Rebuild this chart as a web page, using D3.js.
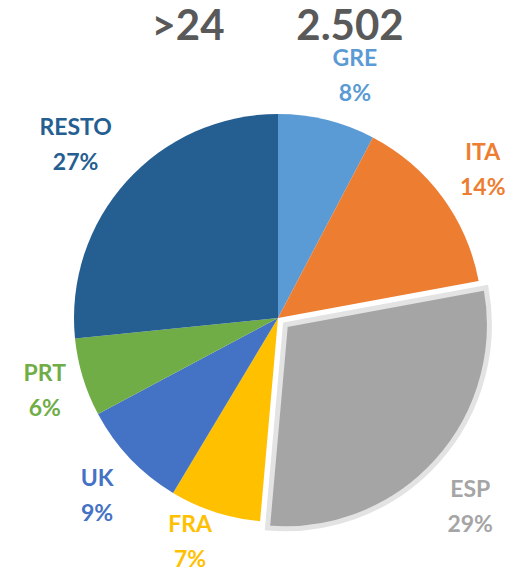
<!DOCTYPE html>
<html>
<head>
<meta charset="utf-8">
<script src="https://cdn.jsdelivr.net/npm/d3@7"></script>
<style>
  body { margin: 0; background: #fff; }
  svg text { font-family: Lato, "Open Sans", sans-serif; font-weight: 700; }
</style>
</head>
<body>
<div id="chart"></div>
<script>
// values (share of total, %)
const categories = ["GRE", "ITA", "ESP", "FRA", "UK", "PRT", "RESTO"];
const shares = [7.7, 14.4, 29.3, 7.2, 8.6, 6.2, 26.6];
const colors = ["#5B9BD5", "#ED7D31", "#A5A5A5", "#FFC000", "#4472C4", "#70AD47", "#255E91"];
const exploded = ["ESP"];
const titleLeft = ">24";
const titleRight = "2.502";

const width = 519, height = 571;
const cx = 278, cy = 318, radius = 204;

const svg = d3.select("#chart").append("svg")
    .attr("width", width)
    .attr("height", height);

// --- titles ---
svg.append("text")
    .attr("x", 188).attr("y", 40)
    .attr("text-anchor", "middle")
    .style("font-size", "42px")
    .attr("fill", "#595959")
    .text(titleLeft);

svg.append("text")
    .attr("x", 350).attr("y", 40)
    .attr("text-anchor", "middle")
    .style("font-size", "42px")
    .attr("fill", "#595959")
    .text(titleRight);

const data = categories.map((c, i) => ({ name: c, value: shares[i], color: colors[i] }));

const pie = d3.pie().value(d => d.value).sort(null);
const arcs = pie(data);
const arc = d3.arc().innerRadius(0).outerRadius(radius);

const g = svg.append("g").attr("transform", `translate(${cx},${cy})`);

const explodeDist = 10;
const offset = d => {
  if (!exploded.includes(d.data.name)) return [0, 0];
  const a = (d.startAngle + d.endAngle) / 2;
  return [Math.sin(a) * explodeDist, -Math.cos(a) * explodeDist];
};

// --- slices ---
g.selectAll(".slice")
    .data(arcs)
    .enter()
    .append("path")
    .attr("class", "slice")
    .attr("transform", d => `translate(${offset(d)})`)
    .attr("d", arc)
    .attr("fill", d => d.data.color)
    .attr("stroke", d => exploded.includes(d.data.name) ? "#e3e3e3" : "none")
    .attr("stroke-width", d => exploded.includes(d.data.name) ? 5 : 0)
    .attr("stroke-linejoin", "miter");

g.selectAll(".slice").filter(d => exploded.includes(d.data.name)).raise();

// --- labels (outside end): distance from centre and small angle nudge, in degrees ---
const labelR = { GRE: 255, ITA: 253, ESP: 269, FRA: 240, UK: 253, PRT: 244, RESTO: 267 };
const labelNudge = { GRE: 3.7, ITA: 0.4, ESP: 2.1, FRA: 3.5, UK: -0.8, PRT: -0.2, RESTO: -1.4 };

const labels = g.selectAll(".label")
    .data(arcs)
    .enter()
    .append("text")
    .attr("class", "label")
    .attr("text-anchor", "middle")
    .style("font-size", "23px")
    .attr("fill", d => d.data.color)
    .attr("transform", d => {
      const a = (d.startAngle + d.endAngle) / 2 + labelNudge[d.data.name] * Math.PI / 180;
      const r = labelR[d.data.name];
      return `translate(${Math.sin(a) * r},${-Math.cos(a) * r})`;
    });

labels.append("tspan")
    .attr("x", 0).attr("y", -9)
    .text(d => d.data.name);

labels.append("tspan")
    .attr("x", 0).attr("y", 26)
    .text(d => Math.round(d.data.value) + "%");
</script>
</body>
</html>
